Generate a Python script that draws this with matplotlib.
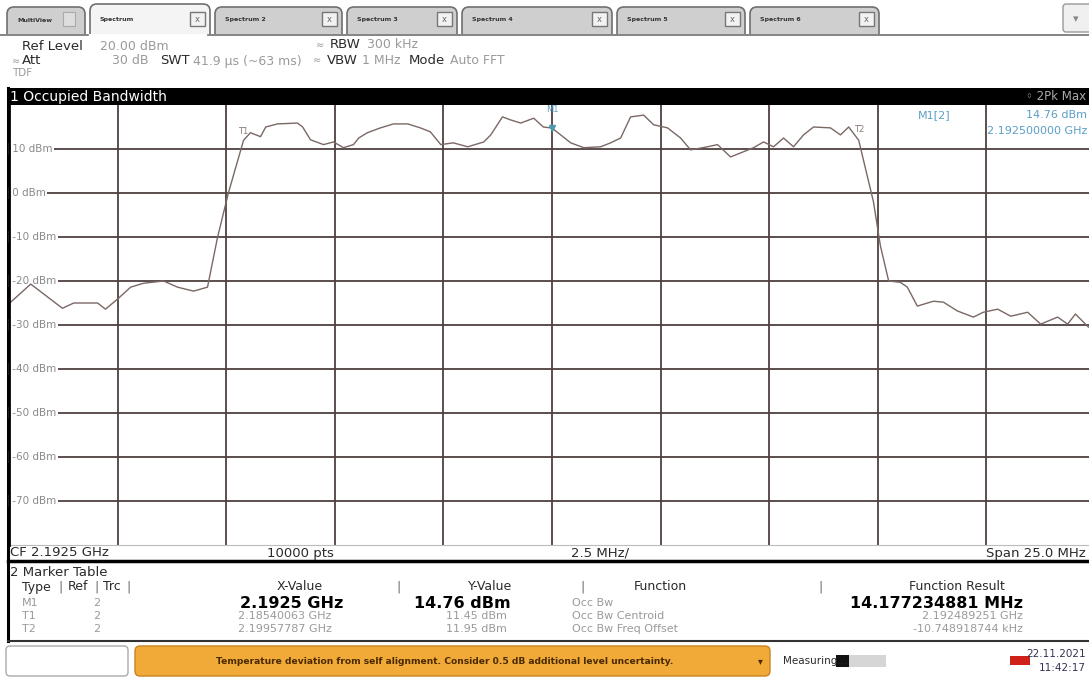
import matplotlib.pyplot as plt
from matplotlib.patches import Rectangle, FancyBboxPatch

W, H = 1089, 684

# trace 2 (2Pk Max), frequency in MHz and level in dBm
freq_mhz = [2180.04, 2180.50, 2181.23, 2181.49, 2182.04, 2182.22, 2182.50, 2182.80,
            2183.10, 2183.56, 2183.88, 2184.25, 2184.57, 2184.80, 2185.05, 2185.40,
            2185.56, 2185.79, 2185.91, 2186.18, 2186.64, 2186.76, 2186.94, 2187.24,
            2187.47, 2187.70, 2187.93, 2188.05, 2188.25, 2188.55, 2188.85, 2189.18,
            2189.47, 2189.70, 2189.94, 2190.23, 2190.56, 2190.93, 2191.09, 2191.36,
            2191.55, 2191.78, 2192.08, 2192.30, 2192.50, 2192.70, 2192.93, 2193.23,
            2193.62, 2193.85, 2194.08, 2194.31, 2194.61, 2194.84, 2195.16, 2195.46,
            2195.69, 2196.08, 2196.31, 2196.61, 2196.84, 2197.14, 2197.37, 2197.60,
            2197.83, 2198.06, 2198.29, 2198.52, 2198.91, 2199.14, 2199.33, 2199.56,
            2199.90, 2200.06, 2200.25, 2200.52, 2200.68, 2200.91, 2201.28, 2201.51,
            2201.83, 2202.20, 2202.43, 2202.76, 2203.06, 2203.45, 2203.75, 2204.14,
            2204.37, 2204.55, 2204.85, 2205.00]
level_dbm = [-24.8, -20.7, -26.2, -25.0, -25.0, -26.4, -24.1, -21.4,
             -20.5, -20.0, -21.4, -22.3, -21.4, -10.1, 0.0, 12.0,
             13.7, 12.8, 15.0, 15.7, 15.9, 15.0, 12.1, 11.0,
             11.6, 10.3, 11.0, 12.5, 13.7, 14.8, 15.7, 15.7,
             14.8, 13.9, 11.0, 11.4, 10.5, 11.6, 13.2, 17.3,
             16.6, 15.9, 17.0, 15.0, 14.76, 13.2, 11.4, 10.3,
             10.5, 11.4, 12.5, 17.3, 17.7, 15.5, 14.8, 12.5,
             9.8, 10.5, 11.0, 8.2, 9.1, 10.3, 11.6, 10.5,
             12.5, 10.5, 13.2, 15.0, 14.8, 13.2, 15.0, 12.0,
             -2.0, -12.0, -20.0, -20.3, -21.4, -25.7, -24.6, -24.8,
             -26.8, -28.2, -27.1, -26.4, -28.0, -27.1, -29.8, -28.2,
             -29.8, -27.5, -30.5, -30.0]

# marker table
marker_type = ["M1", "T1", "T2"]
marker_trc = ["2", "2", "2"]
marker_freq_mhz = [2192.5, 2185.40063, 2199.57787]
marker_level = [14.76, 11.45, 11.95]
marker_xval = ["2.1925 GHz", "2.18540063 GHz", "2.19957787 GHz"]
marker_yval = ["14.76 dBm", "11.45 dBm", "11.95 dBm"]
functions = ["Occ Bw", "Occ Bw Centroid", "Occ Bw Freq Offset"]
results = ["14.177234881 MHz", "2.192489251 GHz", "-10.748918744 kHz"]

tab_names = ["MultiView", "Spectrum", "Spectrum 2", "Spectrum 3",
             "Spectrum 4", "Spectrum 5", "Spectrum 6"]
y_grid = [10, 0, -10, -20, -30, -40, -50, -60, -70]

center_mhz = 2192.5
span_mhz = 25.0

fig = plt.figure(figsize=(W / 100, H / 100), dpi=100)
fig.patch.set_facecolor("white")

# overlay in screen pixels for the instrument frame
ov = fig.add_axes([0, 0, 1, 1])
ov.set_xlim(0, W)
ov.set_ylim(H, 0)
ov.axis("off")

grey = "#9a9a9a"
dark = "#2a2a2a"

# tabs
tab_x = [5, 88, 213, 345, 460, 615, 748, 882]
for i, name in enumerate(tab_names):
    x0, x1 = tab_x[i] + 2, tab_x[i + 1] - 3
    sel = (i == 1)
    ov.add_patch(FancyBboxPatch((x0, 4 if sel else 7), x1 - x0, 40,
                                boxstyle="round,pad=0,rounding_size=7",
                                fc="#f4f4f4" if sel else "#cfcfcf",
                                ec="#6f6f6f", lw=1.2, zorder=2 if sel else 1))
    ov.text(x0 + 10, 20, name, fontsize=4.5, color="#333333", va="center",
            fontweight="bold", zorder=3)
    if i > 0:
        ov.add_patch(Rectangle((x1 - 20, 12), 15, 14, fc="#f2f2f2", ec="#777777",
                               lw=1.0, zorder=3))
        ov.text(x1 - 12.5, 19.5, "x", fontsize=6, color="#666666", ha="center",
                va="center", zorder=4)
    else:
        ov.add_patch(Rectangle((x1 - 22, 12), 12, 14, fc="#dddddd", ec="#aaaaaa",
                               lw=0.8, zorder=3))
ov.add_patch(Rectangle((0, 34), W, 54, fc="white", ec="none", zorder=5))
ov.plot([0, 88], [35, 35], color="#6f6f6f", lw=1.2, zorder=6)
ov.plot([208, W], [35, 35], color="#6f6f6f", lw=1.2, zorder=6)
ov.add_patch(FancyBboxPatch((1063, 4), 30, 28, boxstyle="round,pad=0,rounding_size=3",
                            fc="#f0f0f0", ec="#999999", lw=1))
ov.text(1076, 19, "\u25be", fontsize=8, color="#888888", ha="center", va="center")

# header settings
hz = 7
ov.text(22, 47, "Ref Level", fontsize=9.5, color=dark, va="center", zorder=hz)
ov.text(100, 47, "20.00 dBm", fontsize=9, color=grey, va="center", zorder=hz)
ov.text(12, 61, "\u2248", fontsize=7, color=grey, va="center", zorder=hz)
ov.text(22, 61, "Att", fontsize=9.5, color=dark, va="center", zorder=hz)
ov.text(148, 61, "30 dB", fontsize=9, color=grey, va="center", ha="right", zorder=hz)
ov.text(12, 73, "TDF", fontsize=7.5, color=grey, va="center", zorder=hz)
ov.text(160, 61, "SWT", fontsize=9.5, color=dark, va="center", zorder=hz)
ov.text(193, 61, "41.9 \u00b5s (~63 ms)", fontsize=9, color=grey, va="center", zorder=hz)
ov.text(316, 45, "\u2248", fontsize=7, color=grey, va="center", zorder=hz)
ov.text(330, 45, "RBW", fontsize=9.5, color=dark, va="center", zorder=hz)
ov.text(367, 45, "300 kHz", fontsize=9, color=grey, va="center", zorder=hz)
ov.text(313, 60, "\u2248", fontsize=7, color=grey, va="center", zorder=hz)
ov.text(327, 60, "VBW", fontsize=9.5, color=dark, va="center", zorder=hz)
ov.text(400, 60, "1 MHz", fontsize=9, color=grey, va="center", ha="right", zorder=hz)
ov.text(409, 60, "Mode", fontsize=9.5, color=dark, va="center", zorder=hz)
ov.text(450, 60, "Auto FFT", fontsize=9, color=grey, va="center", zorder=hz)

# window title bar
ov.add_patch(Rectangle((7, 88), W, 17, fc="black", ec="none", zorder=6))
ov.text(10, 96.5, "1 Occupied Bandwidth", fontsize=10, color="white", va="center", zorder=7)
ov.text(1086, 96.5, "\u25e6 2Pk Max", fontsize=8.5, color="#aaaaaa", va="center",
        ha="right", zorder=7)

# frame lines
ov.plot([8, 8], [88, 641], color="black", lw=2.2, zorder=6)
ov.plot([8, W], [561, 561], color="black", lw=2.5, zorder=6)
ov.plot([8, W], [641, 641], color="#333333", lw=1.5, zorder=6)

# spectrum plot
ax = fig.add_axes([9 / W, 1 - 545 / H, 1086 / W, 440 / H])
ax.set_xlim(center_mhz - span_mhz / 2, center_mhz + span_mhz / 2)
ax.set_ylim(-80, 20)
ax.set_xticks([center_mhz - span_mhz / 2 + 2.5 * k for k in range(1, 10)])
ax.set_yticks(y_grid)
ax.grid(True, color="#4e4140", lw=1.3)
ax.tick_params(length=0, labelbottom=False, labelleft=False)
for s in ["top", "right"]:
    ax.spines[s].set_visible(False)
ax.spines["left"].set_color("black")
ax.spines["left"].set_linewidth(2.0)
ax.spines["left"].set_zorder(6)
ax.spines["bottom"].set_color("#bbbbbb")
ax.set_facecolor("white")
ax.set_zorder(4)

for v in y_grid:
    ax.text(0.0, v, f" {v} dBm", transform=ax.get_yaxis_transform(), fontsize=7.5,
            color="#8a8a8a", va="center", ha="left",
            bbox=dict(fc="white", ec="none", pad=1.0))

ax.plot(freq_mhz, level_dbm, color="#7a6864", lw=1.0, zorder=3)

mk_color = "#5a9ec6"
for name, f, lv in zip(marker_type, marker_freq_mhz, marker_level):
    if name == "M1":
        ax.plot(f, lv, marker="v", ms=5, color="#4a9bb0", zorder=4)
        ax.text(f, lv + 3.2, name, fontsize=6, color=mk_color, ha="center", va="bottom")
    else:
        ax.text(f, lv + 1.5, name, fontsize=6, color="#8a7a76", ha="center", va="bottom")

ax.text(918, 115, "M1[2]", transform=ov.transData, fontsize=8, color=mk_color,
        va="center", zorder=8)
ax.text(1087, 115, "14.76 dBm", transform=ov.transData, fontsize=8, color=mk_color,
        ha="right", va="center", zorder=8)
ax.text(1087, 131, "2.192500000 GHz", transform=ov.transData, fontsize=8, color=mk_color,
        ha="right", va="center", zorder=8)

# axis info line
ov.text(10, 553, "CF 2.1925 GHz", fontsize=9.5, color=dark, va="center", zorder=7)
ov.text(300, 553, "10000 pts", fontsize=9.5, color=dark, va="center", ha="center", zorder=7)
ov.text(600, 553, "2.5 MHz/", fontsize=9.5, color=dark, va="center", ha="center", zorder=7)
ov.text(1086, 553, "Span 25.0 MHz", fontsize=9.5, color=dark, va="center", ha="right",
        zorder=7)

# marker table
ov.text(10, 572, "2 Marker Table", fontsize=9.5, color=dark, va="center")
hy = 587
ov.text(22, hy, "Type", fontsize=9, color=dark, va="center")
ov.text(68, hy, "Ref", fontsize=9, color=dark, va="center")
ov.text(103, hy, "Trc", fontsize=9, color=dark, va="center")
for xs in [60, 96, 128, 398, 583, 820]:
    ov.text(xs, hy, "|", fontsize=9, color="#666666", va="center", ha="center")
ov.text(300, hy, "X-Value", fontsize=9, color=dark, va="center", ha="center")
ov.text(490, hy, "Y-Value", fontsize=9, color=dark, va="center", ha="center")
ov.text(660, hy, "Function", fontsize=9, color=dark, va="center", ha="center")
ov.text(957, hy, "Function Result", fontsize=9, color=dark, va="center", ha="center")

row_y = [603, 616, 629]
for i in range(3):
    bold = (i == 0)
    ry = row_y[i]
    ov.text(22, ry, marker_type[i], fontsize=8, color=grey, va="center")
    ov.text(97, ry, marker_trc[i], fontsize=8, color=grey, va="center", ha="center")
    if bold:
        ov.text(292, ry, marker_xval[i], fontsize=11.5, color="black", fontweight="bold",
                va="center", ha="center")
        ov.text(462, ry, marker_yval[i], fontsize=11.5, color="black", fontweight="bold",
                va="center", ha="center")
        ov.text(1023, ry, results[i], fontsize=11.5, color="black", fontweight="bold",
                va="center", ha="right")
    else:
        ov.text(285, ry, marker_xval[i], fontsize=8, color=grey, va="center", ha="center")
        ov.text(507, ry, marker_yval[i], fontsize=8, color=grey, va="center", ha="right")
        ov.text(1023, ry, results[i], fontsize=8, color=grey, va="center", ha="right")
    ov.text(572, ry, functions[i], fontsize=8, color=grey, va="center")

# status bar
ov.add_patch(FancyBboxPatch((6, 646), 122, 30, boxstyle="round,pad=0,rounding_size=4",
                            fc="white", ec="#aaaaaa", lw=1))
ov.add_patch(FancyBboxPatch((135, 646), 635, 30, boxstyle="round,pad=0,rounding_size=5",
                            fc="#f1aa38", ec="#c98420", lw=1))
ov.text(445, 661, "Temperature deviation from self alignment. Consider 0.5 dB additional "
        "level uncertainty.", fontsize=6.6, color="#4a2a00", fontweight="bold",
        va="center", ha="center")
ov.text(760, 661, "\u25be", fontsize=7, color="#4a2a00", va="center", ha="center")
ov.text(783, 661, "Measuring...", fontsize=7.5, color=dark, va="center")
ov.add_patch(Rectangle((836, 655), 50, 12, fc="#d6d6d6", ec="none"))
ov.add_patch(Rectangle((836, 655), 13, 12, fc="#111111", ec="none"))
ov.add_patch(Rectangle((1010, 656), 20, 9, fc="#d0201a", ec="none"))
ov.text(1086, 654, "22.11.2021", fontsize=7.5, color="#333355", va="center", ha="right")
ov.text(1086, 668, "11:42:17", fontsize=7.5, color="#333355", va="center", ha="right")

fig.savefig("out.png", dpi=100)
